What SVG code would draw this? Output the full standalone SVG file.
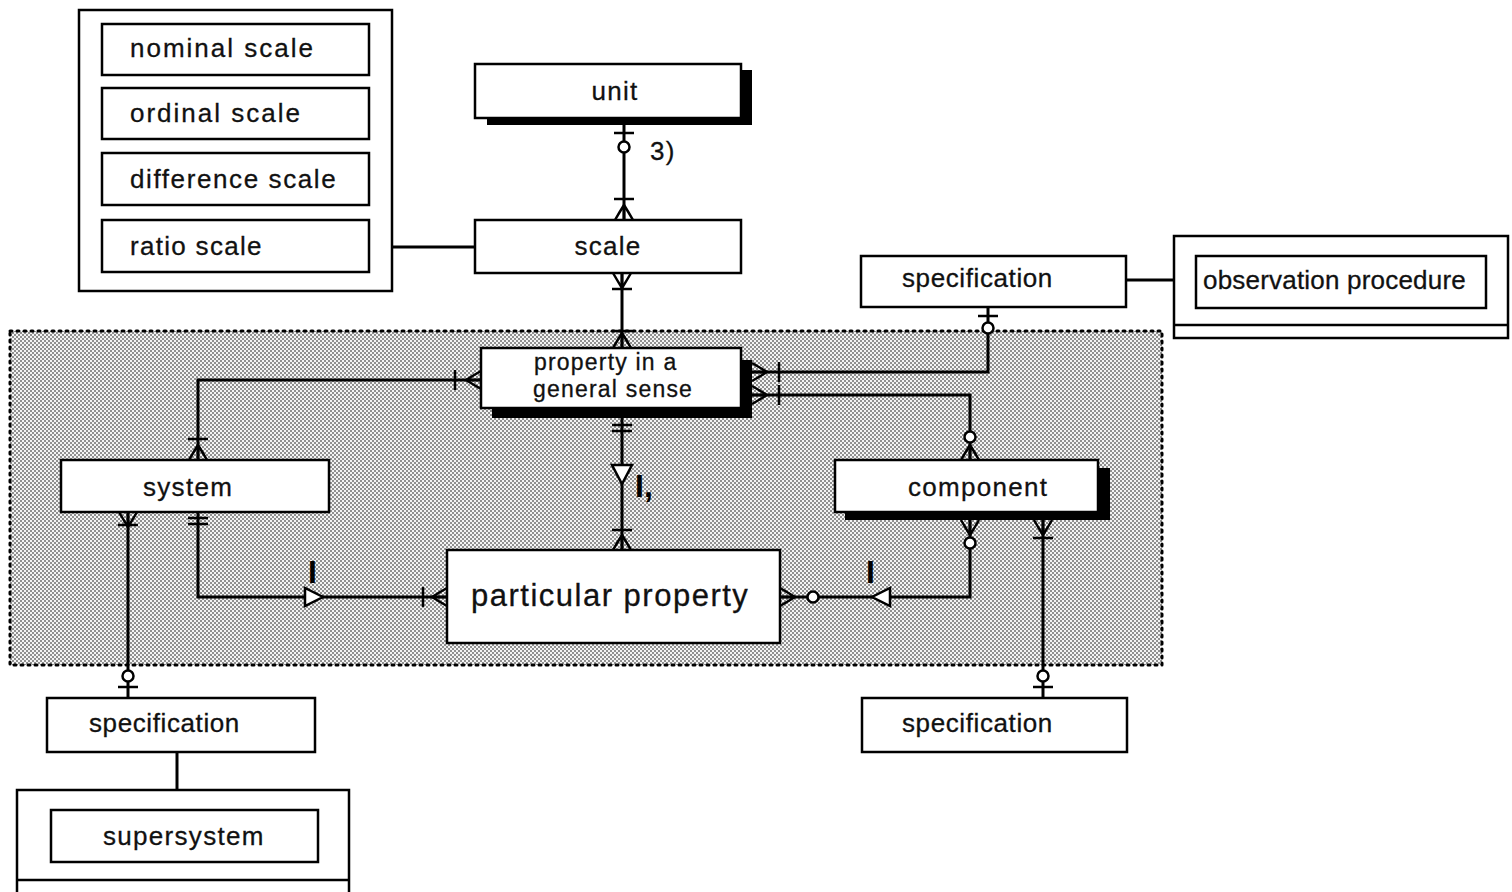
<svg xmlns="http://www.w3.org/2000/svg" xmlns:xlink="http://www.w3.org/1999/xlink" width="1512" height="892" viewBox="0 0 1512 892">
<defs>
<pattern id="halftone" width="4" height="4" patternUnits="userSpaceOnUse">
<rect width="4" height="4" fill="#f4f4f4"/>
<rect x="0" y="0" width="2" height="2" fill="#909090"/>
<rect x="2" y="2" width="2" height="2" fill="#909090"/>
</pattern>
<path id="crow" d="M0,-15 Q-5,-7 -9,0 M0,-15 L0,0 M0,-15 Q5,-7 9,0" fill="none" stroke="#000" stroke-width="2.5"/>
<path id="bar" d="M-10,0 H10" fill="none" stroke="#000" stroke-width="2.5"/>
<circle id="ring" r="5.5" fill="#fff" stroke="#000" stroke-width="2.5"/>
</defs>
<style>
.box{fill:#fff;stroke:#000;stroke-width:2.5}
.shadow{fill:#000}
.lbl{font-family:"Liberation Sans",Arial,sans-serif;font-size:26px;letter-spacing:1.3px;fill:#111;stroke:#111;stroke-width:0.3}
.big{font-family:"Liberation Sans",Arial,sans-serif;font-size:31px;letter-spacing:1.5px;fill:#111;stroke:#111;stroke-width:0.3}
.mark{font-family:"Liberation Sans",Arial,sans-serif;font-size:32px;font-weight:bold;fill:#000}
.conn{fill:none;stroke:#000;stroke-width:3}
.tri{fill:#fff;stroke:#000;stroke-width:2.5}
</style>
<rect width="1512" height="892" fill="#fff"/>

<g id="subject-area">
<rect x="10" y="331" width="1152" height="334" fill="url(#halftone)" stroke="#000" stroke-width="3" stroke-dasharray="2 5" stroke-linecap="round"/>
</g>

<g id="connectors">
<!-- unit - scale -->
<path class="conn" d="M624,118 V220"/>
<use xlink:href="#bar" transform="translate(624,133)"/>
<use xlink:href="#ring" transform="translate(624,147)"/>
<use xlink:href="#bar" transform="translate(624,199)"/>
<use xlink:href="#crow" transform="translate(624,220)"/>
<text class="lbl" x="650" y="160">3)</text>
<!-- scale group - scale -->
<path class="conn" d="M392,247 H475"/>
<!-- scale - property -->
<path class="conn" d="M622,273 V348"/>
<use xlink:href="#crow" transform="translate(622,273) rotate(180)"/>
<use xlink:href="#bar" transform="translate(622,289)"/>
<use xlink:href="#bar" transform="translate(622,331)"/>
<use xlink:href="#crow" transform="translate(622,348)"/>
<!-- property - system -->
<path class="conn" d="M481,380 H198 V460"/>
<use xlink:href="#crow" transform="translate(481,380) rotate(-90)"/>
<use xlink:href="#bar" transform="translate(455,380) rotate(90)"/>
<use xlink:href="#bar" transform="translate(198,439)"/>
<use xlink:href="#crow" transform="translate(198,460)"/>
<!-- system - specification -->
<path class="conn" d="M128,512 V698"/>
<use xlink:href="#crow" transform="translate(128,512) rotate(180)"/>
<use xlink:href="#bar" transform="translate(128,525)"/>
<use xlink:href="#ring" transform="translate(128,676)"/>
<use xlink:href="#bar" transform="translate(128,687)"/>
<!-- system - particular property -->
<path class="conn" d="M198,512 V597 H447"/>
<use xlink:href="#bar" transform="translate(198,518)"/>
<use xlink:href="#bar" transform="translate(198,524)"/>
<polygon class="tri" points="305,588 305,606 323,597"/>
<text class="mark" x="308" y="583">I</text>
<use xlink:href="#bar" transform="translate(423,597) rotate(90)"/>
<use xlink:href="#crow" transform="translate(447,597) rotate(-90)"/>
<!-- property - particular property -->
<path class="conn" d="M622,418 V550"/>
<use xlink:href="#bar" transform="translate(622,425)"/>
<use xlink:href="#bar" transform="translate(622,431)"/>
<polygon class="tri" points="612,465 632,465 622,484"/>
<text class="mark" x="635" y="497">I,</text>
<use xlink:href="#bar" transform="translate(622,530)"/>
<use xlink:href="#crow" transform="translate(622,550)"/>
<!-- property - specification (top right) -->
<path class="conn" d="M752,372 H988 V307"/>
<use xlink:href="#crow" transform="translate(752,372) rotate(90)"/>
<use xlink:href="#bar" transform="translate(779,372) rotate(90)"/>
<use xlink:href="#ring" transform="translate(988,328)"/>
<use xlink:href="#bar" transform="translate(988,316)"/>
<!-- specification - observation procedure -->
<path class="conn" d="M1126,280 H1174"/>
<!-- property - component -->
<path class="conn" d="M752,395 H970 V460"/>
<use xlink:href="#crow" transform="translate(752,395) rotate(90)"/>
<use xlink:href="#bar" transform="translate(779,395) rotate(90)"/>
<use xlink:href="#ring" transform="translate(970,437)"/>
<use xlink:href="#crow" transform="translate(970,460)"/>
<!-- component - particular property -->
<path class="conn" d="M970,520 V597 H780"/>
<use xlink:href="#crow" transform="translate(970,520) rotate(180)"/>
<use xlink:href="#ring" transform="translate(970,543)"/>
<polygon class="tri" points="890,588 890,606 872,597"/>
<text class="mark" x="866" y="583">I</text>
<use xlink:href="#crow" transform="translate(780,597) rotate(90)"/>
<use xlink:href="#ring" transform="translate(813,597)"/>
<!-- component - specification (bottom right) -->
<path class="conn" d="M1043,520 V698"/>
<use xlink:href="#crow" transform="translate(1043,520) rotate(180)"/>
<use xlink:href="#bar" transform="translate(1043,538)"/>
<use xlink:href="#ring" transform="translate(1043,676)"/>
<use xlink:href="#bar" transform="translate(1043,687)"/>
<!-- specification - supersystem -->
<path class="conn" d="M177,752 V790"/>
</g>

<g id="scale-types">
<rect class="box" x="79" y="10" width="313" height="281"/>
<rect class="box" x="102" y="24" width="267" height="51"/>
<text class="lbl" x="130" y="57" style="letter-spacing:2px">nominal scale</text>
<rect class="box" x="102" y="88" width="267" height="51"/>
<text class="lbl" x="130" y="122" style="letter-spacing:2px">ordinal scale</text>
<rect class="box" x="102" y="153" width="267" height="52"/>
<text class="lbl" x="130" y="188" style="letter-spacing:1.6px">difference scale</text>
<rect class="box" x="102" y="220" width="267" height="52"/>
<text class="lbl" x="130" y="255">ratio scale</text>
</g>

<g id="unit">
<rect class="shadow" x="487" y="70" width="265" height="55"/>
<rect class="box" x="475" y="64" width="266" height="54"/>
<text class="lbl" x="615" y="100" text-anchor="middle">unit</text>
</g>

<g id="scale">
<rect class="box" x="475" y="220" width="266" height="53"/>
<text class="lbl" x="608" y="255" text-anchor="middle">scale</text>
</g>

<g id="property-general">
<rect class="shadow" x="492" y="360" width="260" height="58"/>
<rect class="box" x="481" y="348" width="260" height="60"/>
<text class="lbl" x="534" y="370" style="font-size:23px;letter-spacing:1.2px">property in a</text>
<text class="lbl" x="533" y="397" style="font-size:23px;letter-spacing:1.2px">general sense</text>
</g>

<g id="system">
<rect class="box" x="61" y="460" width="268" height="52"/>
<text class="lbl" x="143" y="496">system</text>
</g>

<g id="component">
<rect class="shadow" x="845" y="468" width="265" height="52"/>
<rect class="box" x="835" y="460" width="263" height="52"/>
<text class="lbl" x="908" y="496">component</text>
</g>

<g id="particular-property">
<rect class="box" x="447" y="550" width="333" height="93"/>
<text class="big" x="471" y="606">particular property</text>
</g>

<g id="specification-top">
<rect class="box" x="861" y="256" width="265" height="51"/>
<text class="lbl" x="902" y="287" style="letter-spacing:0.6px">specification</text>
</g>

<g id="observation-procedure">
<rect class="box" x="1174" y="236" width="334" height="102"/>
<path d="M1174,325 H1508" stroke="#000" stroke-width="2.5"/>
<rect class="box" x="1196" y="256" width="290" height="52"/>
<text class="lbl" x="1203" y="289" style="letter-spacing:0.2px">observation procedure</text>
</g>

<g id="specification-left">
<rect class="box" x="47" y="698" width="268" height="54"/>
<text class="lbl" x="89" y="732" style="letter-spacing:0.6px">specification</text>
</g>

<g id="specification-right">
<rect class="box" x="862" y="698" width="265" height="54"/>
<text class="lbl" x="902" y="732" style="letter-spacing:0.6px">specification</text>
</g>

<g id="supersystem">
<rect class="box" x="17" y="790" width="332" height="110"/>
<path d="M17,880 H349" stroke="#000" stroke-width="2.5"/>
<rect class="box" x="51" y="810" width="267" height="52"/>
<text class="lbl" x="103" y="845">supersystem</text>
</g>
</svg>
